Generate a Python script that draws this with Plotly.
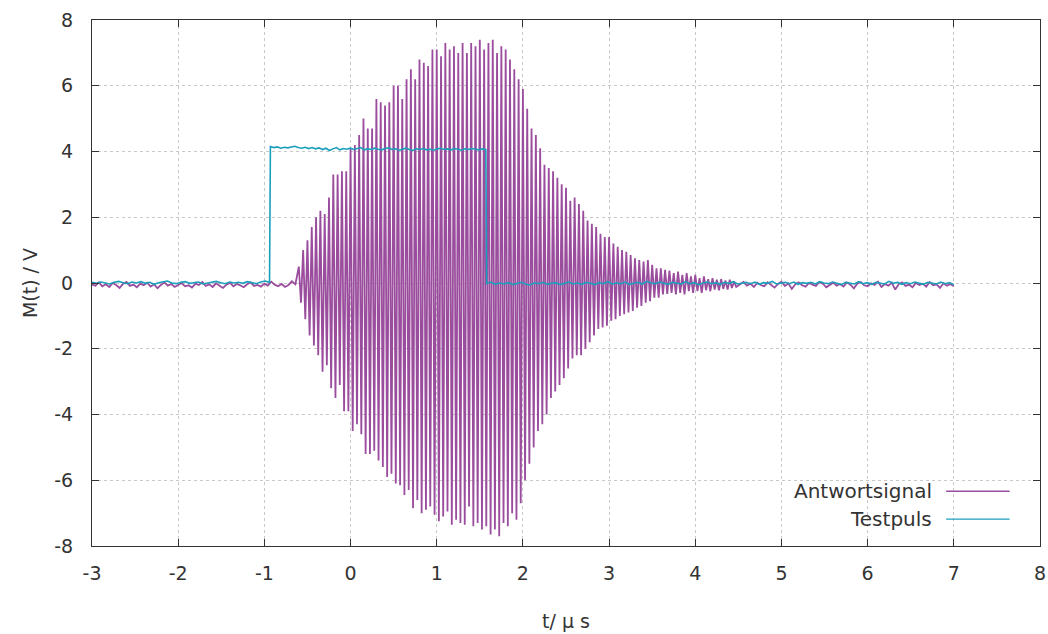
import numpy as np
import plotly.graph_objects as go

# Antwortsignal: noise before the burst (t = -3.0 .. -0.64 us)
ant_pre_t = (-3.0, -0.64)
ant_pre_v = [-0.05, -0.08, 0.02, -0.10, -0.04, -0.12, 0.00, -0.06, -0.15, -0.03,
             0.03, -0.09, -0.05, -0.13, -0.02, -0.07, 0.01, -0.11, -0.04, -0.16,
             -0.06, 0.02, -0.08, -0.03, -0.12, -0.05, 0.00, -0.10, -0.07, -0.14,
             -0.02, -0.06, 0.03, -0.09, -0.04, -0.12, -0.01, -0.08, -0.15, -0.05,
             0.01, -0.10, -0.03, -0.07, -0.13, -0.04, 0.02, -0.09, -0.06, -0.11,
             -0.02, -0.08, 0.04, -0.05, -0.10, -0.03, -0.12, -0.06, 0.05, -0.04]

# burst: positive peaks (t = -0.60 .. 4.45 us) and negative peaks (t = -0.575 .. 4.475 us)
peak_hi_t = (-0.60, 4.45)
peak_hi = [0.5, 1.0, 1.3, 1.7, 2.0, 2.2, 2.1, 2.6, 3.3, 3.3, 3.4, 3.4,
           4.1, 4.2, 4.5, 5.0, 4.7, 4.7, 5.6, 5.5, 5.4, 5.5, 6.0, 6.0,
           5.6, 6.2, 6.5, 6.2, 6.8, 6.7, 6.6, 7.1, 7.1, 6.9, 7.3, 7.1,
           7.2, 7.0, 7.3, 7.0, 7.3, 7.2, 7.4, 7.1, 7.3, 7.4, 7.0, 7.2,
           7.1, 6.8, 6.5, 6.2, 5.9, 5.3, 4.7, 4.5, 4.1, 3.6, 3.5, 3.4,
           3.2, 3.0, 2.9, 2.5, 2.6, 2.4, 2.2, 1.9, 1.8, 1.7, 1.5, 1.4,
           1.4, 1.2, 1.1, 1.0, 0.95, 0.85, 0.75, 0.7, 0.65, 0.7, 0.55, 0.45,
           0.45, 0.4, 0.38, 0.3, 0.35, 0.25, 0.3, 0.2, 0.25, 0.15, 0.2, 0.12,
           0.15, 0.1, 0.12, 0.08, 0.1, 0.05]
peak_lo_t = (-0.575, 4.475)
peak_lo = [-0.6, -1.1, -1.6, -1.9, -2.2, -2.7, -2.5, -3.2, -3.5, -3.1, -3.9, -3.9,
           -4.5, -4.3, -4.6, -5.2, -5.2, -5.1, -5.4, -5.6, -5.9, -5.8, -6.1, -6.15,
           -6.45, -6.3, -6.85, -6.6, -7.0, -6.9, -6.8, -7.05, -7.25, -7.1, -6.95, -7.35,
           -7.2, -7.3, -7.35, -6.8, -7.4, -7.3, -7.5, -7.4, -7.65, -7.5, -7.7, -7.3,
           -7.4, -7.0, -7.2, -6.7, -6.0, -5.5, -5.0, -4.5, -4.3, -4.0, -3.5, -3.3,
           -3.1, -2.9, -2.6, -2.3, -2.2, -2.2, -2.0, -1.8, -1.6, -1.4, -1.35, -1.3,
           -1.15, -1.1, -1.0, -0.95, -0.9, -0.85, -0.75, -0.7, -0.6, -0.55, -0.45, -0.45,
           -0.35, -0.33, -0.3, -0.35, -0.3, -0.35, -0.25, -0.3, -0.25, -0.3, -0.22, -0.25,
           -0.2, -0.22, -0.18, -0.2, -0.15, -0.12]

# Antwortsignal: noise after the burst (t = 4.52 .. 7.0 us)
ant_post_t = (4.52, 7.0)
ant_post_v = [-0.04, 0.03, -0.08, -0.02, -0.12, 0.01, -0.06, -0.10, 0.02, -0.05,
              -0.14, -0.03, 0.04, -0.09, -0.01, -0.18, -0.04, 0.02, -0.07, -0.11,
              0.00, -0.05, -0.09, 0.03, -0.02, -0.13, -0.06, 0.01, -0.08, -0.03,
              -0.11, 0.02, -0.05, -0.16, -0.02, 0.03, -0.07, -0.10, -0.01, -0.06,
              0.04, -0.12, -0.03, -0.08, 0.01, -0.20, -0.04, 0.02, -0.09, -0.05,
              -0.13, 0.00, -0.06, -0.02, -0.11, 0.03, -0.07, -0.04, -0.15, -0.01,
              -0.08, -0.03, -0.10]

# Testpuls: before, during and after the rectangular pulse
tp_pre_t = (-3.0, -0.94)
tp_pre_v = [0.02, -0.01, 0.03, 0.00, -0.03, 0.02, 0.05, 0.01, -0.02, 0.03,
            0.00, 0.04, -0.01, 0.02, -0.04, 0.01, 0.03, 0.06, 0.00, -0.02,
            0.02, 0.04, -0.01, 0.01, 0.03, -0.03, 0.00, 0.02, 0.05, 0.01,
            -0.02, 0.03, 0.00, 0.02, -0.01, 0.04, 0.01, -0.02, 0.03, 0.06,
            0.02]
tp_on_t = (-0.93, 1.57)
tp_on_v = [4.15, 4.12, 4.14, 4.10, 4.13, 4.11, 4.14, 4.16, 4.12, 4.10,
           4.13, 4.09, 4.12, 4.08, 4.11, 4.06, 4.10, 4.03, 4.08, 4.12,
           4.05, 4.09, 4.07, 4.10, 4.06, 4.09, 4.12, 4.05, 4.08, 4.06,
           4.10, 4.07, 4.05, 4.09, 4.11, 4.06, 4.08, 4.04, 4.07, 4.10,
           4.06, 4.03, 4.08, 4.06, 4.09, 4.05, 4.07, 4.04, 4.08, 4.10,
           4.06, 4.08, 4.05, 4.09, 4.07, 4.04, 4.08, 4.06, 4.09, 4.07,
           4.05, 4.08, 4.06]
tp_post_t = (1.58, 7.0)
tp_post_v = [-0.02, 0.03, -0.04, 0.00, -0.03, 0.01, -0.05, -0.02, 0.02, -0.03,
             -0.06, 0.00, -0.02, 0.02, -0.04, -0.01, 0.01, -0.05, -0.02, 0.03,
             -0.03, 0.00, -0.04, 0.02, -0.01, -0.05, 0.01, -0.02, 0.04, -0.03,
             0.00, -0.02, 0.03, -0.04, -0.01, 0.02, -0.03, 0.05, 0.00, -0.02,
             0.03, -0.01, -0.04, 0.02, 0.00, -0.03, 0.04, -0.02, 0.01, -0.05,
             0.00, 0.03, -0.02, 0.01, -0.04, 0.02, -0.01, 0.04, -0.03, 0.00,
             0.02, -0.02, 0.03, -0.04, 0.01, -0.01, 0.05, -0.03, 0.00, 0.02,
             -0.02, 0.03, -0.04, 0.01, -0.01, 0.02, -0.03, 0.04, 0.00, -0.02,
             0.03, -0.01, -0.05, 0.02, 0.00, -0.03, 0.04, -0.02, 0.01, -0.04,
             0.02, 0.00, -0.03, 0.05, -0.01, 0.02, -0.04, 0.01, -0.02, 0.03,
             -0.01, -0.04, 0.02, 0.00, -0.03, 0.03, -0.02, 0.01, -0.05]

x_ticks = list(range(-3, 9))
x_labels = ["-3", "-2", "-1", "0", "1", "2", "3", "4", "5", "6", "7", "8"]
y_ticks = list(range(-8, 9, 2))
y_labels = ["-8", "-6", "-4", "-2", "0", "2", "4", "6", "8"]

PURPLE = "#9a4c9d"
CYAN = "#1c9fbc"
INK = "#333333"


def grid(span, values):
    return np.linspace(span[0], span[1], len(values))


# build the burst by interleaving positive and negative peaks
hi_t = grid(peak_hi_t, peak_hi)
lo_t = grid(peak_lo_t, peak_lo)
burst_t = np.concatenate([hi_t, lo_t])
burst_v = np.concatenate([peak_hi, peak_lo])
order = np.argsort(burst_t)

ant_t = np.concatenate([grid(ant_pre_t, ant_pre_v), burst_t[order], grid(ant_post_t, ant_post_v)])
ant_v = np.concatenate([ant_pre_v, burst_v[order], ant_post_v])

tp_t = np.concatenate([grid(tp_pre_t, tp_pre_v), grid(tp_on_t, tp_on_v), grid(tp_post_t, tp_post_v)])
tp_v = np.concatenate([tp_pre_v, tp_on_v, tp_post_v])

fig = go.Figure()
fig.add_trace(go.Scatter(x=ant_t, y=ant_v, mode="lines", name="Antwortsignal",
                         line=dict(color=PURPLE, width=1.8)))
fig.add_trace(go.Scatter(x=tp_t, y=tp_v, mode="lines", name="Testpuls",
                         line=dict(color=CYAN, width=1.6)))

# gnuplot style key: text right-aligned, line sample on the right
for i, (name, col) in enumerate([("Antwortsignal", PURPLE), ("Testpuls", CYAN)]):
    yy = 0.104 - i * 0.053
    fig.add_annotation(xref="paper", yref="paper", x=0.888, y=yy, text=name,
                       showarrow=False, xanchor="right", yanchor="middle",
                       font=dict(size=20, color=INK))
    fig.add_shape(type="line", xref="paper", yref="paper", x0=0.901, x1=0.968,
                  y0=yy, y1=yy, line=dict(color=col, width=1.4))

axis_style = dict(showline=True, linecolor=INK, linewidth=1.2, mirror="allticks",
                  ticks="inside", ticklen=7, tickcolor=INK, automargin=False,
                  showgrid=True, gridcolor="#c8c8c8", griddash="dot", gridwidth=1,
                  zeroline=False, tickfont=dict(size=19, color=INK))

fig.update_xaxes(range=[-3, 8], tickvals=x_ticks, ticktext=x_labels, ticklabelstandoff=10,
                 title=dict(text="t/ µ s", font=dict(size=19, color=INK), standoff=31),
                 **axis_style)
fig.update_yaxes(range=[-8, 8], tickvals=y_ticks, ticktext=y_labels, ticklabelstandoff=14,
                 title=dict(text="M(t) / V", font=dict(size=19, color=INK), standoff=11),
                 **axis_style)

fig.update_layout(width=1048, height=634, showlegend=False,
                  margin=dict(l=92, r=8, t=20, b=88),
                  plot_bgcolor="white", paper_bgcolor="white",
                  font=dict(family="DejaVu Sans", color=INK))

# drop the default body margin so the figure fills the window exactly
fig.write_html("out.html", config={"displayModeBar": False},
               post_script="document.body.style.margin='0';document.body.style.overflow='hidden';")
